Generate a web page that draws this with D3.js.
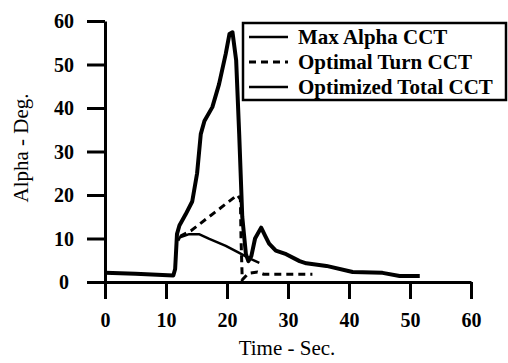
<!DOCTYPE html>
<html>
<head>
<meta charset="utf-8">
<script src="https://cdn.jsdelivr.net/npm/d3@7"></script>
<style>
  body { margin: 0; background: #fff; }
  svg { display: block; }
  .axis text { font-family: "Liberation Serif", "Times New Roman", serif; font-weight: bold; }
</style>
</head>
<body>
<svg id="chart" width="508" height="363"></svg>
<script>
// values (time in sec, alpha in deg)
var xTicks = [0, 10, 20, 30, 40, 50, 60];
var yTicks = [0, 10, 20, 30, 40, 50, 60];
var seriesNames = ["Max Alpha CCT", "Optimal Turn CCT", "Optimized Total CCT"];

var maxAlpha = [[0, 2.1], [5, 1.9], [11.2, 1.5], [11.5, 3], [11.8, 11], [12.2, 13], [13.2, 15.5],
  [14.3, 18.5], [15.1, 25], [15.7, 34], [16.3, 37], [17.6, 40.2], [18.7, 45.5], [19.8, 52.5],
  [20.4, 57], [20.9, 57.4], [21.5, 51], [22, 34], [22.5, 15], [23.1, 6.4], [23.5, 4.8],
  [24, 6], [24.6, 10], [25.6, 12.5], [26.3, 10.5], [26.9, 8.8], [28, 7.2], [29.7, 6.4],
  [31.9, 4.8], [33, 4.3], [36.3, 3.7], [40.6, 2.3], [45.5, 2.1], [48.3, 1.4], [51.6, 1.4]];

var optimalTurn = [[12.3, 10.5], [14.1, 11.8], [18, 16], [21.7, 20], [22.2, 19], [22.3, 10],
  [22.5, 0.5], [23.5, 2], [25, 2.3], [26, 1.8], [34, 1.8]];

var optimizedTotal = [[12, 9.5], [12.3, 10.3], [13.8, 11], [15.4, 11], [17.1, 9.9],
  [19.8, 8.3], [22, 6.7], [23.6, 5.5], [25.3, 4.4]];

(function(){
  var svg = d3.select("#chart"),
    x = d3.scaleLinear().domain([0, 60]).range([105, 471]),
    y = d3.scaleLinear().domain([0, 60]).range([282, 21]),
    line = d3.line().x(function(d){ return x(d[0]); }).y(function(d){ return y(d[1]); });

  function drawAxes(){
    var xAxis = d3.axisBottom(x).tickValues(xTicks).tickSize(17).tickSizeOuter(0);
    var yAxis = d3.axisLeft(y).tickValues(yTicks).tickSize(18).tickSizeOuter(0);

    var gx = svg.append("g")
      .attr("class", "x axis")
      .attr("transform", "translate(0," + y(0) + ")")
      .call(xAxis);
    gx.select(".domain").attr("stroke-width", 3);
    gx.selectAll(".tick line").attr("stroke-width", 3);
    gx.selectAll(".tick text")
      .attr("y", 45).attr("dy", 0)
      .attr("font-size", 20);

    var gy = svg.append("g")
      .attr("class", "y axis")
      .attr("transform", "translate(" + x(0) + ",0)")
      .call(yAxis);
    gy.select(".domain").attr("stroke-width", 3);
    gy.selectAll(".tick line").attr("stroke-width", 3);
    gy.selectAll(".tick text")
      .attr("x", -41).attr("dy", "0.33em")
      .attr("text-anchor", "middle")
      .attr("font-size", 20);

    svg.append("text")
      .attr("x", 287).attr("y", 355)
      .attr("text-anchor", "middle")
      .attr("fill", "#000")
      .attr("font-family", "Liberation Serif, serif")
      .attr("font-size", 21)
      .text("Time - Sec.");

    svg.append("text")
      .attr("transform", "translate(28,148) rotate(-90)")
      .attr("text-anchor", "middle")
      .attr("fill", "#000")
      .attr("font-family", "Liberation Serif, serif")
      .attr("font-size", 21)
      .text("Alpha - Deg.");
  }

  function drawLines(){
    svg.append("path").datum(maxAlpha)
      .attr("fill", "none").attr("stroke", "#000")
      .attr("stroke-width", 4).attr("stroke-linejoin", "round")
      .attr("d", line);

    svg.append("path").datum(optimizedTotal)
      .attr("fill", "none").attr("stroke", "#000")
      .attr("stroke-width", 2.5).attr("stroke-linejoin", "round")
      .attr("d", line);

    svg.append("path").datum(optimalTurn)
      .attr("fill", "none").attr("stroke", "#000")
      .attr("stroke-width", 3).attr("stroke-dasharray", "7,5")
      .attr("d", line);
  }

  function drawLegend(){
    var styles = [
      {w: 2.5, dash: null},
      {w: 3, dash: "7,5"},
      {w: 2.5, dash: null}
    ];
    var lg = svg.append("g").attr("class", "legend");
    lg.append("rect")
      .attr("x", 243).attr("y", 23)
      .attr("width", 263).attr("height", 77)
      .attr("fill", "#fff").attr("stroke", "#000").attr("stroke-width", 2.5);

    seriesNames.forEach(function(name, i){
      var cy = 37 + i * 25;
      lg.append("line")
        .attr("x1", 249).attr("x2", 288)
        .attr("y1", cy).attr("y2", cy)
        .attr("stroke", "#000")
        .attr("stroke-width", styles[i].w)
        .attr("stroke-dasharray", styles[i].dash);
      lg.append("text")
        .attr("x", 298).attr("y", cy).attr("dy", "0.35em")
        .attr("fill", "#000")
        .attr("font-family", "Liberation Serif, serif")
        .attr("font-weight", "bold")
        .attr("font-size", 21)
        .text(name);
    });
  }

  drawAxes();
  drawLines();
  drawLegend();
})();
</script>
</body>
</html>
